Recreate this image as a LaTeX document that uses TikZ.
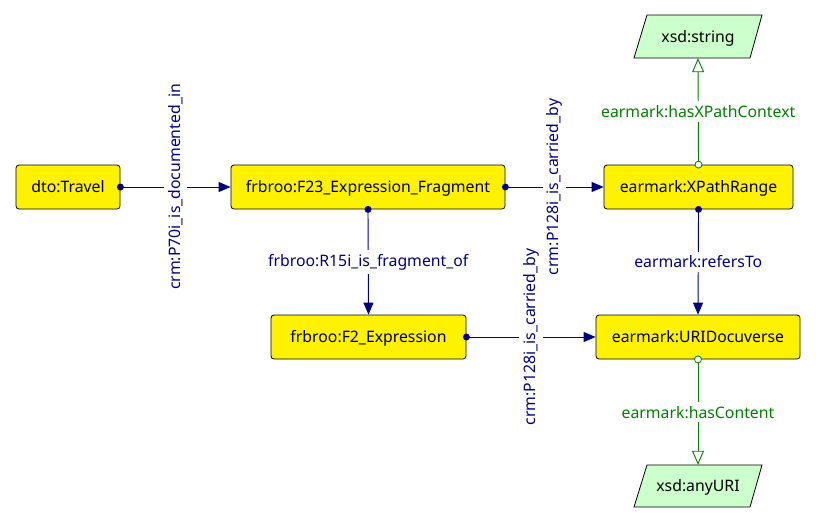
\documentclass[tikz,border=0pt]{standalone}
\usepackage{fontspec}
\setmainfont{Noto Sans}
\usetikzlibrary{arrows.meta}
\definecolor{edgeblue}{RGB}{0,0,128}
\definecolor{edgegreen}{RGB}{0,128,0}
\definecolor{litfill}{RGB}{204,255,204}
\newcommand{\lblfont}{\fontsize{15.8}{19}\selectfont}
\begin{document}
\begin{tikzpicture}[x=1pt,y=-1pt,
  cls/.style={draw=black, fill=yellow, rounded corners=3pt, minimum height=44pt, inner sep=0pt, text depth=1pt, font=\lblfont, line width=0.8pt},
  litnode/.style={inner sep=0pt, minimum height=43pt, minimum width=116pt, text depth=1pt, font=\lblfont},
  lit/.style={draw=black, fill=litfill, line width=0.8pt},
  bedge/.style={draw=edgeblue, line width=0.9pt, -{Triangle[length=12pt,width=10pt]}},
  gedge/.style={draw=edgegreen, line width=0.9pt, -{Triangle[open,length=14pt,width=12pt,fill=white]}},
  blbl/.style={fill=white, text=edgeblue, font=\lblfont, inner sep=4pt},
  glbl/.style={fill=white, text=edgegreen, font=\lblfont, inner sep=4pt},
  bdot/.style={fill=edgeblue},
  gdot/.style={draw=edgegreen, fill=white, line width=0.8pt}]
\useasboundingbox (0,0) rectangle (816,523);
% literal shapes
\draw[lit] (647,15) -- (762,15) -- (750,58) -- (634,58) -- cycle;
\draw[lit] (647,465) -- (762,465) -- (750,507) -- (634,507) -- cycle;
\node[litnode] (str) at (698,36.5) {xsd:string};
\node[litnode, minimum height=42pt] (anyuri) at (698,486) {xsd:anyURI};
% class nodes
\node[cls, minimum width=104pt] (travel) at (68,187) {dto:Travel};
\node[cls, minimum width=274pt] (f23) at (368,187) {frbroo:F23\_Expression\_Fragment};
\node[cls, minimum width=189pt] (xpr) at (698.5,187) {earmark:XPathRange};
\node[cls, minimum width=195pt] (f2) at (368.5,337) {frbroo:F2\_Expression};
\node[cls, minimum width=204pt] (uri) at (698,337) {earmark:URIDocuverse};
% blue edges
\draw[bedge] (travel.east) -- node[blbl, rotate=90] {crm:P70i\_is\_documented\_in} (f23.west);
\fill[bdot] (travel.east) circle (3.5pt);
\draw[bedge] (f23.east) -- node[blbl, rotate=90] {crm:P128i\_is\_carried\_by} (xpr.west);
\fill[bdot] (f23.east) circle (3.5pt);
\draw[bedge] (f23.south) -- node[blbl] {frbroo:R15i\_is\_fragment\_of} (f2.north);
\fill[bdot] (f23.south) circle (3.5pt);
\draw[bedge] (f2.east) -- node[blbl, rotate=90] {crm:P128i\_is\_carried\_by} (uri.west);
\fill[bdot] (f2.east) circle (3.5pt);
\draw[bedge] (xpr.south) -- node[blbl] {earmark:refersTo} (uri.north);
\fill[bdot] (xpr.south) circle (3.5pt);
% green edges
\draw[gedge] (xpr.north) -- node[glbl] {earmark:hasXPathContext} (str.south);
\draw[gdot] (xpr.north) circle (3.5pt);
\draw[gedge] (uri.south) -- node[glbl] {earmark:hasContent} (anyuri.north);
\draw[gdot] (uri.south) circle (3.5pt);
\end{tikzpicture}
\end{document}
